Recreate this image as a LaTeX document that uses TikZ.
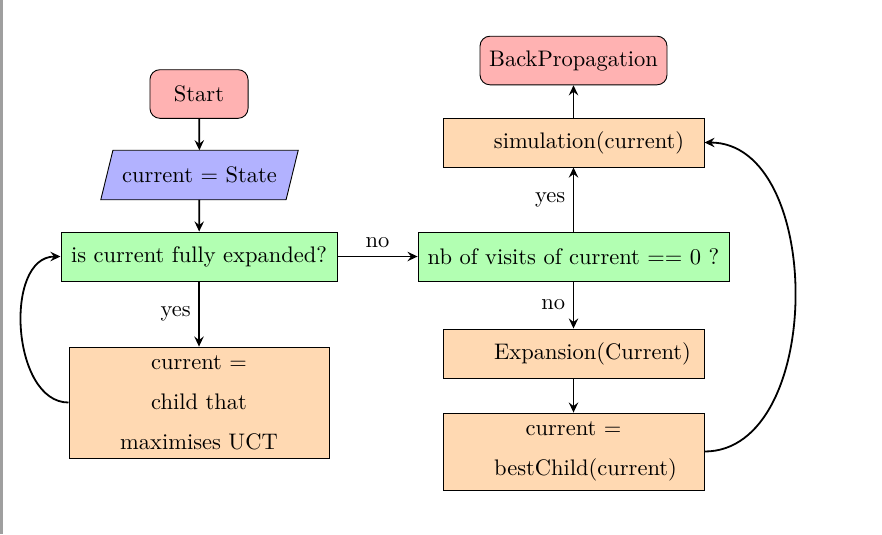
\documentclass[tikz,border=0pt]{standalone}
\usetikzlibrary{arrows.meta,backgrounds}
\begin{document}
\begin{tikzpicture}[x=0.44444pt,y=-0.44444pt,
  base/.style={draw=black, line width=0.4pt, inner sep=3.33pt, align=center},
  term/.style={base, fill=red!30, rounded corners=4.4pt, minimum height=21.6pt},
  io/.style={inner sep=3.33pt, align=center, minimum width=81.95pt, minimum height=21.6pt},
  decide/.style={base, fill=green!30, minimum height=21.8pt},
  proc/.style={base, fill=orange!30, minimum width=116pt},
  arr/.style={thick, -{Stealth[length=4.5pt,width=4.2pt,inset=1.6pt]}},
  lbl/.style={inner sep=3.33pt}]
\useasboundingbox (0,0) rectangle (882,534);
\draw[gray!75, line width=1pt] (1.5,0) -- (1.5,534);
\node[term, minimum width=43.6pt] (start) at (199,94) {Start};
\node[io] (state) at (199.5,175) {current = State};
\begin{scope}[on background layer]
\draw[fill=blue!30, line width=0.4pt] ([xshift=2.7pt]state.north west) -- ([xshift=2.7pt]state.north east) -- ([xshift=-2.7pt]state.south east) -- ([xshift=-2.7pt]state.south west) -- cycle;
\end{scope}
\node[decide, minimum width=122.7pt] (expanded) at (199,256.5) {is current fully expanded?};
\node[proc, minimum width=115.6pt, minimum height=49.3pt] (child) at (199,402.5) {current =\\[5.8pt] child that\\[5.8pt] maximises UCT};
\node[decide, minimum width=138.2pt] (visits) at (573.5,256.5) {nb of visits of current == 0 ?};
\node[proc, minimum height=21.8pt] (sim) at (573.5,142.5) {\hspace*{13.8pt}simulation(current)};
\node[term, minimum width=83.1pt] (back) at (573.5,60.5) {BackPropagation};
\node[proc, minimum height=21.8pt] (exp) at (573.5,353.5) {\hspace*{16.9pt}Expansion(Current)};
\node[proc, minimum height=34.2pt] (best) at (573.5,451.5) {current =\\[5.8pt] \hspace*{10.7pt}bestChild(current)};
\draw[arr] (start) -- (state);
\draw[arr] (state) -- (expanded);
\draw[arr] (expanded) -- node[lbl, left] {yes} (child);
\draw[arr] (expanded) -- node[lbl, above] {no} (visits);
\draw[arr] (visits) -- node[lbl, left] {yes} (sim);
\draw[arr] (visits) -- node[lbl, left] {no} (exp);
\draw[arr] (sim) -- (back);
\draw[arr] (exp) -- (best);
\draw[arr] (child.west) to[out=180, in=180, looseness=1] (expanded.west);
\draw[arr] (best.east) to[out=0, in=0, looseness=1] (sim.east);
\end{tikzpicture}
\end{document}
